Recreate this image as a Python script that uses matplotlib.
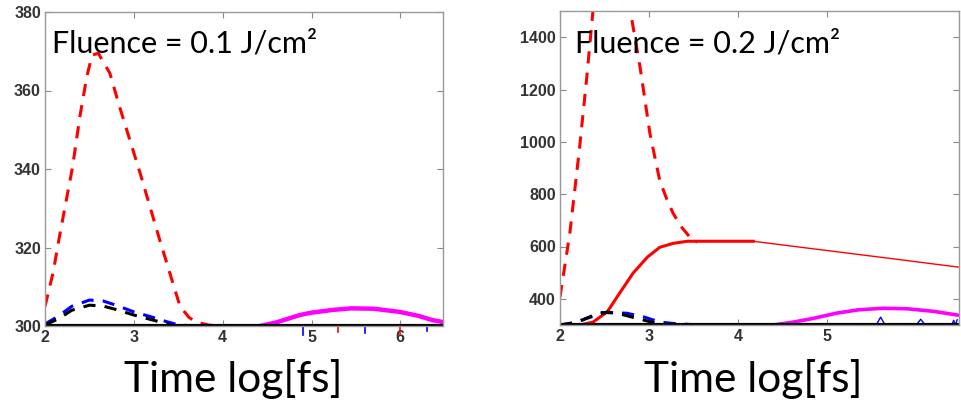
import matplotlib.pyplot as plt

# ---- left panel: fluence 0.1 J/cm^2 ----
l_red_dash_x = [2.0, 2.09, 2.17, 2.31, 2.39, 2.47, 2.53, 2.6, 2.73, 2.84, 3.07, 3.29, 3.52, 3.62, 3.7, 3.85, 4.0, 4.3]
l_red_dash_y = [305, 313.5, 323.7, 340.5, 353, 363.5, 369, 369.5, 364.4, 355.8, 339, 322, 305, 302.2, 301, 300.2, 300, 300]

l_blue_dash_x = [2.0, 2.15, 2.3, 2.5, 2.65, 2.8, 3.0, 3.2, 3.37, 3.5, 3.8, 4.1]
l_blue_dash_y = [300.5, 302.5, 305, 306.6, 306.4, 305.3, 303.6, 302.3, 301.1, 300.3, 299.8, 299.8]

l_black_dash_x = [2.0, 2.15, 2.3, 2.5, 2.65, 2.8, 3.0, 3.2, 3.4]
l_black_dash_y = [300.3, 301.8, 304, 305.3, 305.1, 304.2, 302.8, 301.6, 300.4]

l_mag_x = [4.42, 4.6, 4.87, 5.0, 5.24, 5.45, 5.7, 5.99, 6.2, 6.36, 6.48]
l_mag_y = [300, 300.9, 302.8, 303.4, 304.1, 304.5, 304.4, 303.6, 302.6, 301.5, 301]

l_spike_x = [4.9, 4.9, 5.3, 5.3, 5.6, 5.6, 6.0, 6.0, 6.3, 6.3]
l_spike_y = [300, 297.8, 300, 298.5, 300, 298.2, 300, 298.0, 300, 298.6]

# ---- right panel: fluence 0.2 J/cm^2 ----
r_red_dash_x = [2.0, 2.11, 2.22, 2.30, 2.37, 2.45, 2.55, 2.65, 2.79, 2.9, 3.01, 3.12, 3.2, 3.27, 3.36, 3.46, 3.54]
r_red_dash_y = [407, 650, 978, 1245, 1500, 1750, 1850, 1800, 1500, 1283, 1031, 852, 780, 727, 676, 635, 616]

r_red_solid_x = [2.22, 2.37, 2.53, 2.67, 2.82, 2.98, 3.12, 3.27, 3.43, 3.6, 4.17]
r_red_solid_y = [300, 311, 350, 422, 498, 559, 597, 612, 620, 620, 620]

r_red_thin_x = [4.17, 4.8, 5.6, 6.48]
r_red_thin_y = [620, 593, 559, 521]

r_blue_dash_x = [2.0, 2.2, 2.45, 2.75, 2.95, 3.12, 3.3, 3.57]
r_blue_dash_y = [300, 312, 348, 345, 330, 311, 305, 300]

r_black_dash_x = [2.0, 2.15, 2.34, 2.53, 2.7, 2.9, 3.1, 3.3]
r_black_dash_y = [300, 307, 330, 350, 340, 322, 305, 300]

r_mag_x = [4.39, 4.6, 4.84, 5.1, 5.35, 5.63, 5.9, 6.2, 6.46]
r_mag_y = [300, 310, 325, 345, 358, 364, 362, 352, 338]

r_spike_x = [5.55, 5.6, 5.65, 6.0, 6.05, 6.1, 6.4, 6.42, 6.44, 6.46]
r_spike_y = [300, 330, 300, 300, 322, 300, 300, 318, 300, 320]

xticks = [2, 3, 4, 5, 6]
l_yticks = [300, 320, 340, 360, 380]
r_yticks = [400, 600, 800, 1000, 1200, 1400]

fig = plt.figure(figsize=(9.61, 4.01), dpi=100)
ax1 = fig.add_axes([45 / 961, 1 - 326 / 401, 398 / 961, 314 / 401])
ax2 = fig.add_axes([560 / 961, 1 - 325 / 401, 399 / 961, 314 / 401])


def style(ax):
    for s in ax.spines.values():
        s.set_color('#999999')
        s.set_linewidth(1.0)
    ax.tick_params(direction='in', top=True, right=True, color='#888888',
                   length=4, labelsize=11.5, labelcolor='#333333', pad=3)
    for lab in ax.get_xticklabels() + ax.get_yticklabels():
        lab.set_fontweight('bold')
        lab.set_family('Liberation Sans')


dash = (0, (4, 3))

# left
ax1.plot(l_red_dash_x, l_red_dash_y, color='red', lw=2.2, ls=dash)
ax1.plot(l_blue_dash_x, l_blue_dash_y, color='blue', lw=2.2, ls=dash)
ax1.plot(l_black_dash_x, l_black_dash_y, color='black', lw=2.2, ls=dash)
ax1.plot(l_mag_x, l_mag_y, color='magenta', lw=3.2)
for i in range(0, len(l_spike_x), 2):
    ax1.plot(l_spike_x[i:i + 2], l_spike_y[i:i + 2], color='blue' if i % 4 == 0 else 'red',
             lw=1.2, clip_on=False)
ax1.axhline(300, color='black', lw=3)
ax1.set_xlim(2, 6.48)
ax1.set_ylim(300, 380)
ax1.set_xticks(xticks)
ax1.set_yticks(l_yticks)
style(ax1)
fig.text(52 / 961, 1 - 53 / 401, 'Fluence = 0.1 J/cm²', family='Lato', fontsize=22)
fig.text(233 / 961, 1 - 392 / 401, 'Time log[fs]', family='Lato', fontsize=30.5, ha='center')

# right
ax2.plot(r_red_dash_x, r_red_dash_y, color='red', lw=2.2, ls=dash)
ax2.plot(r_red_solid_x, r_red_solid_y, color='red', lw=2.2)
ax2.plot(r_red_thin_x, r_red_thin_y, color='red', lw=1.0)
ax2.plot(r_blue_dash_x, r_blue_dash_y, color='blue', lw=2.2, ls=dash)
ax2.plot(r_black_dash_x, r_black_dash_y, color='black', lw=2.2, ls=dash)
ax2.plot(r_mag_x, r_mag_y, color='magenta', lw=2.6)
ax2.plot(r_spike_x, r_spike_y, color='blue', lw=1.0)
ax2.axhline(300, color='black', lw=3)
ax2.set_xlim(2, 6.48)
ax2.set_ylim(300, 1500)
ax2.set_xticks(xticks[:4])
ax2.set_yticks(r_yticks)
style(ax2)
fig.text(575 / 961, 1 - 53 / 401, 'Fluence = 0.2 J/cm²', family='Lato', fontsize=22)
fig.text(753 / 961, 1 - 392 / 401, 'Time log[fs]', family='Lato', fontsize=30.5, ha='center')

fig.savefig('out.png', dpi=100)
